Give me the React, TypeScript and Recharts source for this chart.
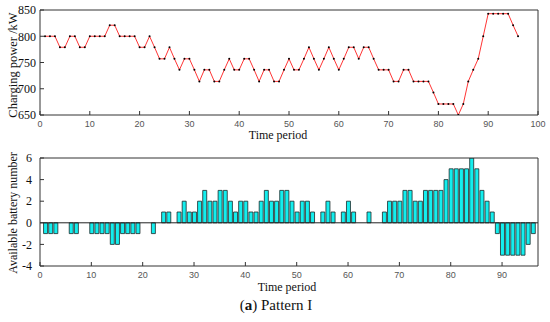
import React from 'react';
import { LineChart, Line, XAxis, YAxis, BarChart, Bar, ReferenceLine } from 'recharts';

const periods = [
  1, 2, 3, 4, 5, 6, 7, 8, 9, 10,
  11, 12, 13, 14, 15, 16, 17, 18, 19, 20,
  21, 22, 23, 24, 25, 26, 27, 28, 29, 30,
  31, 32, 33, 34, 35, 36, 37, 38, 39, 40,
  41, 42, 43, 44, 45, 46, 47, 48, 49, 50,
  51, 52, 53, 54, 55, 56, 57, 58, 59, 60,
  61, 62, 63, 64, 65, 66, 67, 68, 69, 70,
  71, 72, 73, 74, 75, 76, 77, 78, 79, 80,
  81, 82, 83, 84, 85, 86, 87, 88, 89, 90,
  91, 92, 93, 94, 95, 96,
];

const chargingPower = [
  800, 800, 800, 779, 779, 800, 800, 779, 779, 800,
  800, 800, 800, 821, 821, 800, 800, 800, 800, 779,
  779, 800, 779, 757, 757, 779, 757, 736, 757, 757,
  736, 714, 736, 736, 714, 714, 736, 757, 736, 736,
  757, 757, 736, 714, 736, 736, 714, 714, 736, 757,
  736, 736, 757, 779, 757, 736, 757, 779, 757, 736,
  757, 779, 779, 757, 779, 779, 757, 736, 736, 736,
  714, 714, 736, 736, 714, 714, 714, 714, 693, 671,
  671, 671, 671, 650, 671, 714, 736, 757, 800, 843,
  843, 843, 843, 843, 821, 800,
];

const batteryNumber = [
  -1, -1, -1, 0, 0, -1, -1, 0, 0, -1,
  -1, -1, -1, -2, -2, -1, -1, -1, -1, 0,
  0, -1, 0, 1, 1, 0, 1, 2, 1, 1,
  2, 3, 2, 2, 3, 3, 2, 1, 2, 2,
  1, 1, 2, 3, 2, 2, 3, 3, 2, 1,
  2, 2, 1, 0, 1, 2, 1, 0, 1, 2,
  1, 0, 0, 1, 0, 0, 1, 2, 2, 2,
  3, 3, 2, 2, 3, 3, 3, 3, 4, 5,
  5, 5, 5, 6, 5, 3, 2, 1, -1, -3,
  -3, -3, -3, -3, -2, -1,
];

const topXTicks = [0, 10, 20, 30, 40, 50, 60, 70, 80, 90, 100];
const bottomXTicks = [0, 10, 20, 30, 40, 50, 60, 70, 80, 90];
const powerTicks = [650, 700, 750, 800, 850];
const batteryTicks = [-4, -2, 0, 2, 4, 6];

const powerData = periods.map((t, i) => ({ t, p: chargingPower[i] }));
const batteryData = periods.map((t, i) => ({ t, n: batteryNumber[i] }));

const frame = '#333';
const xTickStyle = { fontFamily: 'Liberation Sans, Arial, sans-serif', fontSize: 9, fill: '#555' };
const yTickStyle = { fontFamily: 'Liberation Serif, serif', fontSize: 12, fill: '#111' };
const serif = 'Liberation Serif, "Times New Roman", serif';

const abs = (l: number, t: number, extra: React.CSSProperties = {}): React.CSSProperties => ({
  position: 'absolute',
  left: l,
  top: t,
  transform: 'translate(-50%, -50%)',
  whiteSpace: 'nowrap',
  fontFamily: serif,
  color: '#111',
  lineHeight: 1,
  ...extra,
});

export default function App() {
  return (
    <div style={{ position: 'absolute', left: 0, top: 0, width: 550, height: 322, background: '#fff' }}>
      <div style={{ position: 'absolute', left: 0, top: 0 }}>
        <LineChart width={550} height={135} data={powerData} margin={{ top: 9, right: 11, bottom: 0, left: 0 }}>
          <XAxis
            dataKey="t"
            type="number"
            domain={[0, 100]}
            ticks={topXTicks}
            allowDataOverflow
            height={20}
            tickSize={-4}
            tickMargin={10}
            stroke={frame}
            tick={xTickStyle}
            interval={0}
          />
          <XAxis
            xAxisId="top"
            orientation="top"
            type="number"
            domain={[0, 100]}
            ticks={topXTicks}
            allowDataOverflow
            height={1}
            tickSize={-4}
            tick={false}
            stroke={frame}
          />
          <YAxis
            type="number"
            domain={[650, 850]}
            ticks={powerTicks}
            allowDataOverflow
            width={40}
            tickSize={-4}
            tickMargin={8}
            stroke={frame}
            tick={yTickStyle}
            interval={0}
          />
          <YAxis
            yAxisId="r"
            orientation="right"
            type="number"
            domain={[650, 850]}
            ticks={powerTicks}
            allowDataOverflow
            width={1}
            tickSize={-4}
            tick={false}
            stroke={frame}
          />
          <Line
            dataKey="p"
            type="linear"
            stroke="#ff3535"
            strokeWidth={1}
            dot={{ r: 1, fill: '#000', stroke: 'none' }}
            isAnimationActive={false}
          />
        </LineChart>
      </div>

      <div style={{ position: 'absolute', left: 0, top: 140 }}>
        <BarChart width={550} height={150} data={batteryData} margin={{ top: 17, right: 11, bottom: 0, left: 0 }}>
          <XAxis
            dataKey="t"
            type="number"
            domain={[0, 97]}
            ticks={bottomXTicks}
            allowDataOverflow
            height={24}
            tickSize={-4}
            tickMargin={10}
            stroke={frame}
            tick={xTickStyle}
            interval={0}
          />
          <XAxis
            xAxisId="top"
            orientation="top"
            type="number"
            domain={[0, 97]}
            ticks={bottomXTicks}
            allowDataOverflow
            height={1}
            tickSize={-4}
            tick={false}
            stroke={frame}
          />
          <YAxis
            type="number"
            domain={[-4, 6]}
            ticks={batteryTicks}
            allowDataOverflow
            width={40}
            tickSize={-4}
            tickMargin={12}
            stroke={frame}
            tick={yTickStyle}
            interval={0}
          />
          <YAxis
            yAxisId="r"
            orientation="right"
            type="number"
            domain={[-4, 6]}
            ticks={batteryTicks}
            allowDataOverflow
            width={1}
            tickSize={-4}
            tick={false}
            stroke={frame}
          />
          <ReferenceLine y={0} stroke="#222" strokeWidth={1} />
          <Bar
            dataKey="n"
            barSize={4}
            fill="#14eeee"
            stroke="#1c2a2a"
            strokeWidth={0.8}
            isAnimationActive={false}
          />
        </BarChart>
      </div>

      <div style={abs(13, 65, { fontSize: 12.5, transform: 'translate(-50%, -50%) rotate(-90deg)' })}>
        Charging power /kW
      </div>
      <div style={abs(278, 135, { fontSize: 12 })}>Time period</div>

      <div style={abs(13, 213, { fontSize: 12, transform: 'translate(-50%, -50%) rotate(-90deg)' })}>
        Available battery number
      </div>
      <div style={abs(287, 287, { fontSize: 12 })}>Time period</div>

      <div style={abs(276, 305, { fontSize: 15 })}>
        (<b>a</b>) Pattern I
      </div>
    </div>
  );
}
